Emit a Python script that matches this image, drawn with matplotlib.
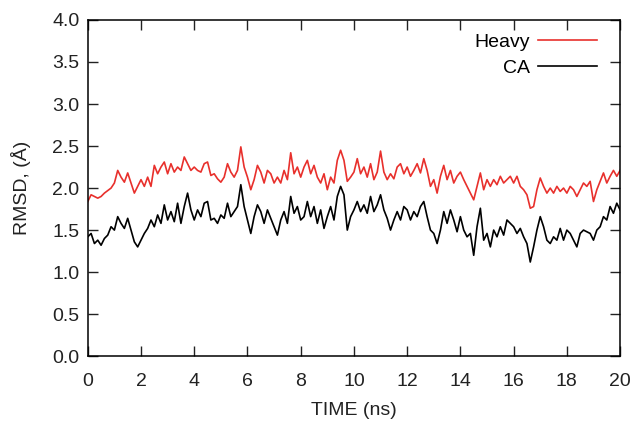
import matplotlib.pyplot as plt
import numpy as np

# RMSD traces, sampled every 0.125 ns from 0 to 20 ns
heavy = [1.84, 1.92, 1.90, 1.88, 1.90, 1.94, 1.97, 2.00, 2.06, 2.21, 2.13, 2.07, 2.18, 2.06, 1.94, 2.02,
         2.10, 2.02, 2.13, 2.02, 2.27, 2.17, 2.25, 2.31, 2.17, 2.29, 2.19, 2.25, 2.21, 2.37, 2.29, 2.21, 2.25,
         2.21, 2.19, 2.29, 2.31, 2.15, 2.17, 2.11, 2.07, 2.13, 2.29, 2.19, 2.13, 2.21, 2.49, 2.25, 2.13,
         1.98, 2.10, 2.27, 2.19, 2.06, 2.21, 2.17, 2.06, 2.13, 2.06, 2.21, 2.10, 2.42, 2.17, 2.25, 2.13,
         2.25, 2.33, 2.17, 2.27, 2.13, 2.06, 2.17, 1.98, 2.13, 2.06, 2.33, 2.45, 2.33, 2.08, 2.13, 2.19,
         2.35, 2.17, 2.25, 2.13, 2.29, 2.10, 2.19, 2.44, 2.19, 2.10, 2.17, 2.11, 2.25, 2.29, 2.17,
         2.25, 2.14, 2.21, 2.29, 2.18, 2.35, 2.21, 2.02, 2.10, 1.94, 2.14, 2.27, 2.10, 2.21, 2.06, 2.14,
         2.19, 2.10, 2.02, 1.94, 1.86, 2.02, 2.18, 1.98, 2.10, 2.02, 2.10, 2.04, 2.14, 2.06, 2.10, 2.14,
         2.06, 2.14, 2.02, 1.98, 1.92, 1.76, 1.78, 1.98, 2.12, 2.02, 1.94, 2.00, 1.94, 2.02, 1.96, 2.00,
         1.94, 2.02, 1.98, 1.90, 1.98, 2.06, 2.02, 2.08, 1.84, 1.98, 2.08, 2.18, 2.06, 2.14, 2.21, 2.14, 2.21]
ca = [1.42, 1.46, 1.34, 1.38, 1.32, 1.40, 1.44, 1.54, 1.50, 1.66, 1.58, 1.52, 1.64, 1.50, 1.36, 1.30,
      1.38, 1.46, 1.52, 1.62, 1.54, 1.68, 1.58, 1.80, 1.62, 1.72, 1.60, 1.82, 1.58, 1.78, 1.94, 1.74, 1.62,
      1.74, 1.66, 1.82, 1.84, 1.62, 1.64, 1.58, 1.68, 1.64, 1.82, 1.66, 1.72, 1.78, 2.04, 1.78, 1.62,
      1.46, 1.66, 1.80, 1.72, 1.58, 1.74, 1.64, 1.54, 1.44, 1.62, 1.72, 1.58, 1.90, 1.70, 1.78, 1.62,
      1.66, 1.84, 1.66, 1.78, 1.58, 1.74, 1.52, 1.66, 1.78, 1.62, 1.90, 2.02, 1.92, 1.50, 1.66, 1.74,
      1.84, 1.72, 1.80, 1.70, 1.90, 1.72, 1.80, 1.92, 1.74, 1.64, 1.50, 1.62, 1.72, 1.62, 1.78,
      1.74, 1.62, 1.72, 1.66, 1.78, 1.84, 1.66, 1.50, 1.46, 1.34, 1.50, 1.72, 1.58, 1.74, 1.62, 1.48,
      1.66, 1.50, 1.42, 1.46, 1.20, 1.54, 1.76, 1.38, 1.46, 1.30, 1.50, 1.42, 1.54, 1.44, 1.62, 1.58,
      1.54, 1.46, 1.52, 1.42, 1.34, 1.12, 1.30, 1.50, 1.66, 1.54, 1.38, 1.34, 1.42, 1.38, 1.52, 1.38,
      1.50, 1.46, 1.38, 1.30, 1.46, 1.50, 1.48, 1.46, 1.38, 1.50, 1.54, 1.66, 1.62, 1.78, 1.70, 1.82, 1.74]
time = np.linspace(0, 20, len(heavy))

x_ticks = [0, 2, 4, 6, 8, 10, 12, 14, 16, 18, 20]
y_ticks = [0.0, 0.5, 1.0, 1.5, 2.0, 2.5, 3.0, 3.5, 4.0]

plt.rcParams['font.family'] = ['Liberation Sans', 'DejaVu Sans']

fig = plt.figure(figsize=(6.36, 4.25), dpi=100)
ax = fig.add_axes([0.138, 0.162, 0.837, 0.791])

ax.plot(time, heavy, color='#e8302c', lw=1.2, label='Heavy')
ax.plot(time, ca, color='black', lw=1.2, label='CA')

ax.set_xlim(0, 20)
ax.set_ylim(0, 4.0)
ax.set_xticks(x_ticks)
ax.set_yticks(y_ticks)
ax.set_yticklabels([f'{v:.1f}' for v in y_ticks])
ax.tick_params(direction='in', top=True, right=True, length=7, width=1.0,
               labelsize=14, colors='#222222')
ax.tick_params(axis='x', pad=12)
ax.tick_params(axis='y', pad=6)
for s in ax.spines.values():
    s.set_linewidth(1.1)

ax.set_xlabel('TIME (ns)', fontsize=14, color='#222222', labelpad=9)
ax.set_ylabel('RMSD, (Å)', fontsize=14, color='#222222', labelpad=15)

ax.legend(loc='upper right', bbox_to_anchor=(0.967, 0.978), frameon=False,
          markerfirst=False, fontsize=14, handlelength=3.0, handletextpad=0.45,
          labelspacing=0.45, borderaxespad=0, borderpad=0.3)

fig.savefig('out.png', dpi=100)
